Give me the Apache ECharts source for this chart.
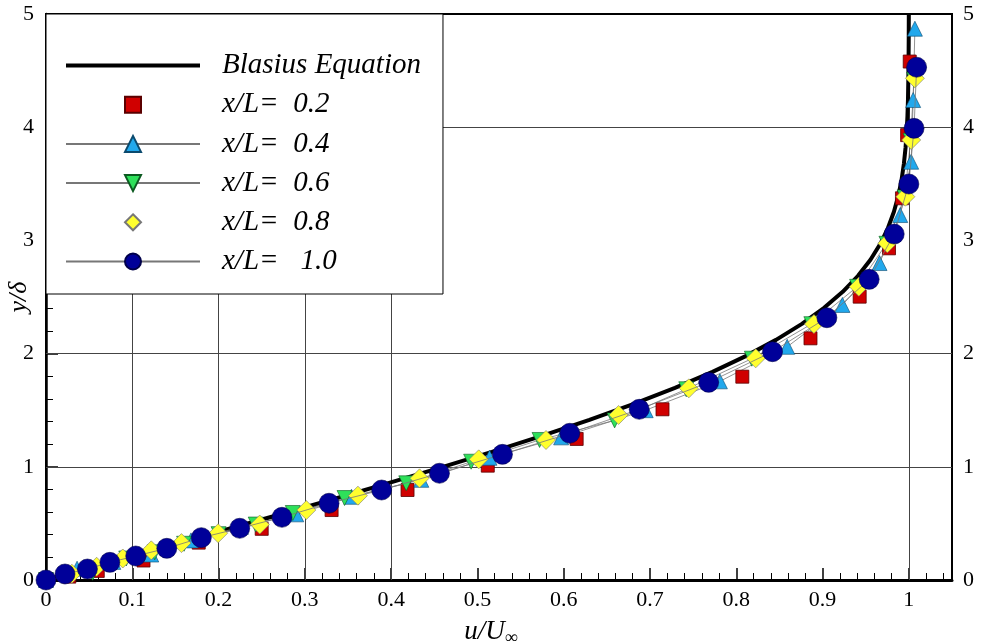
<!DOCTYPE html>
<html><head><meta charset="utf-8">
<script src="https://cdn.jsdelivr.net/npm/echarts@6/dist/echarts.min.js"></script>
<style>html,body{margin:0;padding:0;background:#fff}#c{width:981px;height:641px}</style>
</head><body><div id="c"></div>
<script>
// ---- axis ticks ----
const xTickValues = [0, 0.1, 0.2, 0.3, 0.4, 0.5, 0.6, 0.7, 0.8, 0.9, 1];
const yTickValues = [0, 1, 2, 3, 4, 5];
const xGridLines = [0.1, 0.2, 0.3, 0.4, 1.0];
const yGridLines = [1, 2, 4];

// ---- Blasius equation (u/U, y/delta) ----
const blasiusU = [0, 0.06641, 0.13277, 0.19894, 0.26471, 0.32979, 0.39378, 0.45627, 0.51676, 0.57477, 0.62977, 0.68132, 0.72899, 0.77246, 0.81152, 0.84605, 0.87609, 0.90177, 0.92333, 0.94112, 0.95552, 0.96696, 0.97587, 0.98269, 0.98779, 0.99155, 0.99425, 0.99616, 0.99748, 0.99838, 0.99898, 0.99961, 0.99987, 0.99995];
const blasiusY = [0, 0.1414, 0.2828, 0.4243, 0.5657, 0.7071, 0.8485, 0.9899, 1.1314, 1.2728, 1.4142, 1.5556, 1.6971, 1.8385, 1.9799, 2.1213, 2.2627, 2.4042, 2.5456, 2.6870, 2.8284, 2.9698, 3.1113, 3.2527, 3.3941, 3.5355, 3.6770, 3.8184, 3.9598, 4.1012, 4.2426, 4.5255, 4.8083, 5.0];

// ---- x/L = 0.2 (red squares) ----
const u02 = [0, 0.027, 0.060, 0.113, 0.177, 0.250, 0.331, 0.419, 0.512, 0.615, 0.7145, 0.807, 0.886, 0.943, 0.977, 0.992, 0.998, 1.001];
const y02 = [0, 0.03, 0.08, 0.172, 0.33, 0.452, 0.618, 0.795, 1.01, 1.246, 1.508, 1.796, 2.135, 2.503, 2.93, 3.372, 3.93, 4.58];

// ---- x/L = 0.4 (cyan triangles) ----
const u04 = [0, 0.036, 0.078, 0.122, 0.168, 0.226, 0.290, 0.354, 0.435, 0.514, 0.597, 0.695, 0.781, 0.859, 0.923, 0.966, 0.990, 1.0027, 1.005, 1.007];
const y04 = [0, 0.10, 0.16, 0.225, 0.35, 0.47, 0.58, 0.735, 0.885, 1.08, 1.26, 1.50, 1.755, 2.06, 2.43, 2.80, 3.224, 3.695, 4.24, 4.87];

// ---- x/L = 0.6 (green inverted triangles) ----
const u06 = [0, 0.054, 0.093, 0.126, 0.160, 0.200, 0.243, 0.286, 0.346, 0.4175, 0.4927, 0.572, 0.659, 0.742, 0.818, 0.887, 0.940, 0.974, 0.995, 1.002, 1.006];
const y06 = [0, 0.064, 0.19, 0.245, 0.32, 0.405, 0.49, 0.592, 0.724, 0.854, 1.045, 1.237, 1.41, 1.685, 1.955, 2.26, 2.59, 2.97, 3.38, 3.88, 4.42];

// ---- x/L = 0.8 (yellow diamonds) ----
const u08 = [0, 0.030, 0.0587, 0.089, 0.122, 0.157, 0.1995, 0.2477, 0.3017, 0.3615, 0.4329, 0.5015, 0.5795, 0.6636, 0.745, 0.8225, 0.890, 0.942, 0.975, 0.996, 1.0027, 1.007];
const y08 = [0, 0.055, 0.117, 0.19, 0.262, 0.326, 0.413, 0.49, 0.618, 0.745, 0.898, 1.066, 1.237, 1.458, 1.693, 1.958, 2.261, 2.591, 2.974, 3.386, 3.887, 4.432];

// ---- x/L = 1.0 (navy circles) ----
const u10 = [0, 0.022, 0.048, 0.074, 0.104, 0.140, 0.180, 0.2245, 0.2735, 0.328, 0.389, 0.456, 0.529, 0.607, 0.6875, 0.768, 0.842, 0.905, 0.954, 0.983, 1.000, 1.006, 1.009];
const y10 = [0, 0.053, 0.097, 0.156, 0.212, 0.28, 0.374, 0.457, 0.554, 0.678, 0.795, 0.943, 1.11, 1.296, 1.508, 1.746, 2.017, 2.317, 2.656, 3.056, 3.498, 3.99, 4.53];

const seriesNames = ['Blasius Equation', 'x/L=  0.2', 'x/L=  0.4', 'x/L=  0.6', 'x/L=  0.8', 'x/L=   1.0'];

const zip = (a, b) => a.map((v, i) => [v, b[i]]);
const SERIF = 'Liberation Serif, Times New Roman, serif';

const chart = echarts.init(document.getElementById('c'));
chart.setOption({
  animation: false,
  backgroundColor: '#fff',
  grid: { left: 46, right: 29, top: 14, bottom: 61, show: true, borderColor: '#000', borderWidth: 2,
    backgroundColor: 'transparent', containLabel: false, outerBoundsMode: 'none' },
  xAxis: {
    type: 'value', min: 0, max: 1.05, interval: 0.1,
    name: '{i|u/U}{s|∞}', nameLocation: 'middle', nameGap: 37, nameMoveOverlap: false,
    nameTextStyle: { padding: [0, 16, 0, 0], rich: {
      i: { fontFamily: SERIF, fontStyle: 'italic', fontSize: 27, color: '#000' },
      s: { fontFamily: SERIF, fontSize: 18, color: '#000', padding: [12, 0, 0, 0] }
    } },
    axisLine: { show: true, onZero: false, lineStyle: { color: '#000', width: 3 } },
    axisTick: { show: true, inside: true, length: 12, lineStyle: { color: '#000', width: 1.5 } },
    minorTick: { show: true, splitNumber: 5, length: 7, lineStyle: { color: '#000', width: 1 } },
    axisLabel: { show: true, showMaxLabel: false, margin: 9, fontFamily: SERIF, fontSize: 22, color: '#000',
      formatter: v => xTickValues.some(t => Math.abs(t - v) < 1e-6) ? String(+v.toFixed(1)) : '' },
    splitLine: { show: false }
  },
  yAxis: [{
    type: 'value', min: 0, max: 5, interval: 1, position: 'left',
    name: 'y/δ', nameLocation: 'middle', nameGap: 14, nameRotate: 90, nameMoveOverlap: false,
    nameTextStyle: { fontFamily: SERIF, fontStyle: 'italic', fontSize: 26, color: '#000' },
    axisLine: { show: true, onZero: false, lineStyle: { color: '#000', width: 2.5 } },
    axisTick: { show: true, inside: true, length: 12, lineStyle: { color: '#000', width: 1.5 } },
    minorTick: { show: true, splitNumber: 5, length: 7, lineStyle: { color: '#000', width: 1 } },
    axisLabel: { margin: 12, fontFamily: SERIF, fontSize: 22, color: '#000',
      formatter: v => yTickValues.includes(v) ? String(v) : '' },
    splitLine: { show: false }
  }, {
    type: 'value', min: 0, max: 5, interval: 1, position: 'right',
    axisLine: { show: true, onZero: false, lineStyle: { color: '#000', width: 2 } },
    axisTick: { show: false },
    axisLabel: { margin: 11, fontFamily: SERIF, fontSize: 22, color: '#000',
      formatter: v => yTickValues.includes(v) ? String(v) : '' },
    splitLine: { show: false }
  }],
  legend: {
    z: 20, zlevel: 0,
    data: [{ name: seriesNames[0], icon: 'path://M0,0 L134,0 L134,4 L0,4 Z' }].concat(seriesNames.slice(1).map(n => ({ name: n }))),
    orient: 'vertical', left: 46, top: 14,
    padding: [37, 22, 18, 19],
    itemWidth: 134, itemHeight: 20, itemGap: 10.2,
    backgroundColor: '#fff', borderColor: '#000', borderWidth: 1,
    selectedMode: false,
    textStyle: { fontFamily: SERIF, fontStyle: 'italic', fontSize: 29, color: '#000', lineHeight: 20, padding: [0, 0, 0, 17] }
  },
  series: [
    {
      name: 'grid', type: 'line', data: [], z: 1, silent: true,
      markLine: { silent: true, symbol: 'none', label: { show: false }, z: 1,
        lineStyle: { color: '#444', width: 1, type: 'solid' },
        data: xGridLines.map(v => ({ xAxis: v })).concat(yGridLines.map(v => ({ yAxis: v }))) }
    },
    {
      name: seriesNames[0], type: 'line', symbol: 'none', data: zip(blasiusU, blasiusY), z: 2,
      lineStyle: { color: '#000', width: 4 }, itemStyle: { color: '#000' }
    },
    {
      name: seriesNames[1], type: 'line', symbol: 'rect', symbolSize: 13, data: zip(u02, y02), z: 3,
      lineStyle: { opacity: 0 },
      itemStyle: { color: '#D00000', borderColor: '#5a0000', borderWidth: 0.8 }
    },
    {
      name: seriesNames[2], type: 'line', symbol: 'triangle', symbolSize: 15, data: zip(u04, y04), z: 3,
      lineStyle: { color: '#777', width: 0.8 },
      itemStyle: { color: '#22A8EC', borderColor: '#0b4a6e', borderWidth: 0.6 }
    },
    {
      name: seriesNames[3], type: 'line', symbol: 'triangle', symbolRotate: 180, symbolSize: 15, data: zip(u06, y06), z: 3,
      lineStyle: { color: '#777', width: 0.8 },
      itemStyle: { color: '#2EE05A', borderColor: '#0b5a20', borderWidth: 0.6 }
    },
    {
      name: seriesNames[4], type: 'line', symbol: 'diamond', symbolSize: 19, data: zip(u08, y08), z: 4,
      lineStyle: { opacity: 0 },
      itemStyle: { color: '#FFFF2E', borderColor: '#777', borderWidth: 0.6 }
    },
    {
      name: seriesNames[5], type: 'line', symbol: 'circle', symbolSize: 20, data: zip(u10, y10), z: 5,
      lineStyle: { color: '#777', width: 0.8 },
      itemStyle: { color: '#000099', borderColor: '#00004a', borderWidth: 0.6 }
    }
  ]
});
</script>
</body></html>
